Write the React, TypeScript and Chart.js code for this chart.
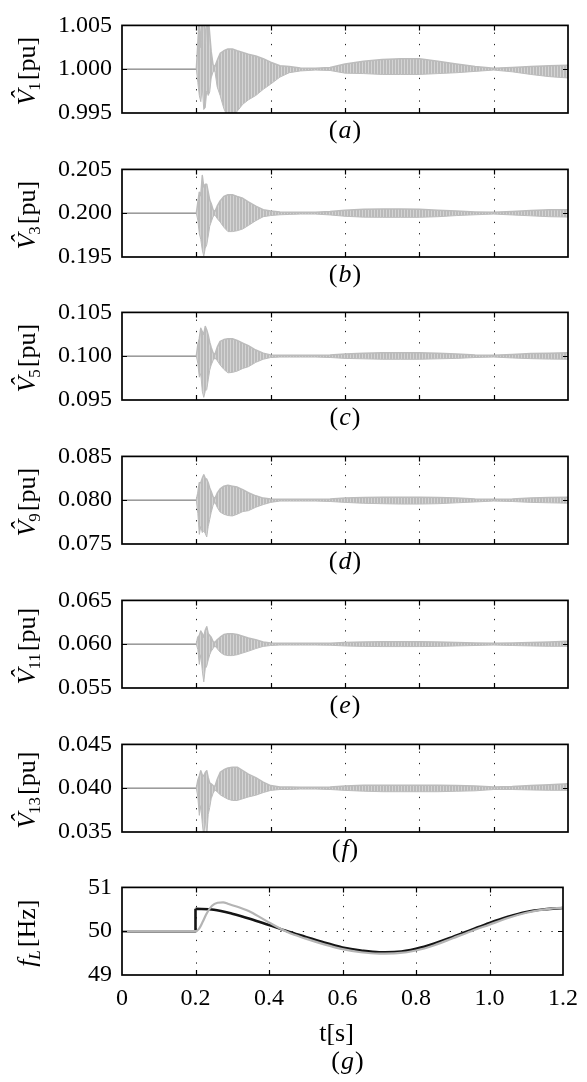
import React, { useEffect, useRef } from 'react';
import { Chart, registerables } from 'chart.js';

Chart.register(...registerables);

// ---------- data ----------
// shared sample times (s) for the envelopes of the harmonic voltages
const tV = [0, 0.2, 0.204, 0.208, 0.212, 0.216, 0.22, 0.224, 0.228, 0.232, 0.236, 0.24, 0.245, 0.25, 0.256, 0.264, 0.274, 0.285, 0.297, 0.31, 0.325, 0.34, 0.36, 0.38, 0.4, 0.425, 0.45, 0.48, 0.52, 0.56, 0.6, 0.65, 0.7, 0.75, 0.8, 0.85, 0.9, 0.95, 1.0, 1.05, 1.1, 1.15, 1.2];

// V1 envelope (upper / lower) [pu]
const v1Hi = [1.0, 1.0, 1.003, 1.006, 1.0025, 1.006, 1.006, 1.003, 1.006, 1.006, 1.004, 1.002, 1.0005, 1.0003, 1.001, 1.0018, 1.0021, 1.0023, 1.0023, 1.0021, 1.0019, 1.0017, 1.0015, 1.0012, 1.0008, 1.0004, 1.0003, 1.00015, 1.0001, 1.0002, 1.0006, 1.0009, 1.0011, 1.0012, 1.0012, 1.0009, 1.0006, 1.0003, 1.0001, 1.0002, 1.0003, 1.0004, 1.00045];
const v1Lo = [1.0, 1.0, 0.9985, 0.997, 0.9963, 0.998, 0.9954, 0.9956, 0.9975, 0.997, 0.9974, 0.999, 0.9997, 0.9998, 0.998, 0.997, 0.9955, 0.9945, 0.9945, 0.9952, 0.996, 0.9965, 0.997, 0.9977, 0.9983, 0.9991, 0.9996, 0.9998, 0.9999, 0.99985, 0.99955, 0.9995, 0.9994, 0.9994, 0.9994, 0.9995, 0.9996, 0.99975, 0.9999, 0.9997, 0.9994, 0.99915, 0.999];

// V3 envelope
const v3Hi = [0.2, 0.2, 0.2012, 0.2024, 0.202, 0.2043, 0.203, 0.2033, 0.2033, 0.2024, 0.2015, 0.2011, 0.2004, 0.2002, 0.2008, 0.2014, 0.2019, 0.2021, 0.2021, 0.2019, 0.2017, 0.2013, 0.2008, 0.2004, 0.20024, 0.20015, 0.20012, 0.2001, 0.2001, 0.2002, 0.20035, 0.20045, 0.20047, 0.20047, 0.20045, 0.20035, 0.20024, 0.20015, 0.2001, 0.2002, 0.2003, 0.20038, 0.2004];
const v3Lo = [0.2, 0.2, 0.1992, 0.1977, 0.197, 0.1958, 0.1951, 0.196, 0.1964, 0.1974, 0.1985, 0.199, 0.1996, 0.1998, 0.1994, 0.199, 0.1984, 0.1979, 0.1979, 0.198, 0.1982, 0.1986, 0.19915, 0.1996, 0.19973, 0.19982, 0.19986, 0.1999, 0.1999, 0.1998, 0.19965, 0.19955, 0.19953, 0.19953, 0.19953, 0.1996, 0.19973, 0.19982, 0.1999, 0.1998, 0.1997, 0.1996, 0.19956];

// V5 envelope
const v5Hi = [0.1, 0.1, 0.1013, 0.102, 0.1032, 0.1028, 0.1025, 0.1034, 0.103, 0.1024, 0.1016, 0.101, 0.1004, 0.1002, 0.101, 0.1017, 0.1019, 0.102, 0.102, 0.1018, 0.1015, 0.1012, 0.1007, 0.10035, 0.10015, 0.1001, 0.1001, 0.1001, 0.1001, 0.10015, 0.10025, 0.10035, 0.1004, 0.1004, 0.1004, 0.10035, 0.10025, 0.10015, 0.1001, 0.1002, 0.1003, 0.10035, 0.1004];
const v5Lo = [0.1, 0.1, 0.0992, 0.0976, 0.098, 0.096, 0.0953, 0.096, 0.0962, 0.0973, 0.0984, 0.099, 0.0995, 0.0998, 0.0995, 0.099, 0.0985, 0.0981, 0.09815, 0.0983, 0.0986, 0.0988, 0.0993, 0.09965, 0.09985, 0.0999, 0.0999, 0.0999, 0.0999, 0.09985, 0.09975, 0.0997, 0.09965, 0.09965, 0.09965, 0.0997, 0.09975, 0.09985, 0.0999, 0.0998, 0.09972, 0.09967, 0.09965];

// V9 envelope
const v9Hi = [0.08, 0.08, 0.0808, 0.082, 0.082, 0.0825, 0.0829, 0.0825, 0.0824, 0.082, 0.0814, 0.081, 0.0804, 0.0802, 0.0808, 0.0813, 0.0816, 0.0817, 0.0816, 0.0815, 0.0812, 0.08085, 0.0805, 0.08024, 0.08015, 0.0801, 0.0801, 0.0801, 0.0801, 0.08015, 0.08025, 0.0803, 0.08034, 0.08034, 0.08034, 0.0803, 0.08025, 0.08015, 0.0801, 0.08015, 0.08025, 0.0803, 0.08034];
const v9Lo = [0.08, 0.08, 0.0785, 0.0761, 0.077, 0.0763, 0.0765, 0.0762, 0.0758, 0.077, 0.0778, 0.0786, 0.0794, 0.0798, 0.0792, 0.07865, 0.0784, 0.07825, 0.0782, 0.0784, 0.0787, 0.0788, 0.0792, 0.0795, 0.07975, 0.0799, 0.0799, 0.0799, 0.0799, 0.07985, 0.07975, 0.07965, 0.0796, 0.07956, 0.07956, 0.0796, 0.0797, 0.0798, 0.0799, 0.07985, 0.07975, 0.0797, 0.07966];

// V11 envelope
const v11Hi = [0.06, 0.06, 0.0608, 0.061, 0.0615, 0.0612, 0.0608, 0.0616, 0.062, 0.0612, 0.061, 0.0608, 0.0603, 0.0602, 0.0605, 0.0608, 0.0611, 0.0612, 0.0612, 0.0611, 0.0609, 0.0607, 0.0605, 0.06025, 0.06015, 0.0601, 0.0601, 0.0601, 0.0601, 0.06012, 0.0602, 0.06025, 0.06027, 0.06027, 0.06027, 0.06025, 0.0602, 0.06015, 0.0601, 0.06015, 0.0602, 0.06025, 0.06034];
const v11Lo = [0.06, 0.06, 0.0594, 0.0577, 0.0588, 0.057, 0.0557, 0.0572, 0.0575, 0.0582, 0.0588, 0.0592, 0.0595, 0.0598, 0.0595, 0.0591, 0.0588, 0.0587, 0.0587, 0.0588, 0.059, 0.0592, 0.0595, 0.05975, 0.05985, 0.0599, 0.0599, 0.0599, 0.0599, 0.05988, 0.0598, 0.05975, 0.05973, 0.05973, 0.05973, 0.05975, 0.0598, 0.05985, 0.0599, 0.05985, 0.0598, 0.05976, 0.05976];

// V13 envelope
const v13Hi = [0.04, 0.04, 0.0409, 0.0414, 0.042, 0.0415, 0.0414, 0.0418, 0.042, 0.0412, 0.0406, 0.0405, 0.0403, 0.0402, 0.041, 0.0418, 0.0421, 0.0423, 0.0424, 0.0424, 0.042, 0.0416, 0.0412, 0.0407, 0.0403, 0.04015, 0.04015, 0.0401, 0.0401, 0.04015, 0.04025, 0.04034, 0.04034, 0.04034, 0.04034, 0.04034, 0.0403, 0.04025, 0.04015, 0.0402, 0.0403, 0.0404, 0.0405];
const v13Lo = [0.04, 0.04, 0.039, 0.0369, 0.038, 0.036, 0.0345, 0.0365, 0.0345, 0.037, 0.0378, 0.0388, 0.0394, 0.0398, 0.0396, 0.03925, 0.039, 0.03875, 0.0386, 0.0386, 0.0388, 0.039, 0.0392, 0.0395, 0.03975, 0.03985, 0.03985, 0.0399, 0.0399, 0.03985, 0.03975, 0.03966, 0.0396, 0.0396, 0.0396, 0.0396, 0.03965, 0.0397, 0.03985, 0.03985, 0.0398, 0.03976, 0.03976];

// frequency f_L [Hz]: black (reference) and gray (measured)
const tBlack = [0, 0.2, 0.2, 0.25, 0.3, 0.35, 0.4, 0.45, 0.5, 0.55, 0.6, 0.65, 0.7, 0.75, 0.8, 0.85, 0.9, 0.95, 1.0, 1.05, 1.1, 1.15, 1.2];
const fBlack = [50, 50, 50.51, 50.49, 50.4, 50.28, 50.14, 50.0, 49.87, 49.74, 49.63, 49.56, 49.52, 49.53, 49.6, 49.72, 49.87, 50.03, 50.19, 50.33, 50.44, 50.5, 50.53];
const tGray = [0, 0.2, 0.21, 0.22, 0.23, 0.245, 0.26, 0.275, 0.29, 0.32, 0.35, 0.4, 0.45, 0.5, 0.55, 0.6, 0.65, 0.7, 0.75, 0.8, 0.85, 0.9, 0.95, 1.0, 1.05, 1.1, 1.15, 1.2];
const fGray = [50, 50, 50.06, 50.22, 50.4, 50.58, 50.65, 50.66, 50.62, 50.54, 50.44, 50.2, 49.98, 49.83, 49.7, 49.59, 49.52, 49.49, 49.5, 49.56, 49.68, 49.84, 50.0, 50.15, 50.3, 50.42, 50.5, 50.54];

// axes
const xTicks = [0, 0.2, 0.4, 0.6, 0.8, 1.0, 1.2];
const xTickLabels = ['0', '0.2', '0.4', '0.6', '0.8', '1.0', '1.2'];
const yTicksV1 = [0.995, 1.0, 1.005];
const yTicksV3 = [0.195, 0.2, 0.205];
const yTicksV5 = [0.095, 0.1, 0.105];
const yTicksV9 = [0.075, 0.08, 0.085];
const yTicksV11 = [0.055, 0.06, 0.065];
const yTicksV13 = [0.035, 0.04, 0.045];
const yTicksF = [49, 50, 51];
const yTickLabelsF = ['49', '50', '51'];
const harmonicOrders = ['1', '3', '5', '9', '11', '13'];
const panelLetters = ['a', 'b', 'c', 'd', 'e', 'f', 'g'];
const xTitle = 't[s]';

// ---------- styling ----------
const SERIF = '"Liberation Serif", "Times New Roman", serif';
const BAND = '#bcbcbc';
const PRE = '#9c9c9c';
const TICK_FONT = { family: SERIF, size: 24 };

function stripePattern(): any {
  const c = document.createElement('canvas');
  c.width = 3;
  c.height = 1;
  const g = c.getContext('2d');
  if (!g) return BAND;
  g.fillStyle = '#bababa';
  g.fillRect(0, 0, 3, 1);
  g.fillStyle = '#d4d4d4';
  g.fillRect(2, 0, 1, 1);
  return g.createPattern(c, 'repeat') || BAND;
}

type Part = { t: string; font: string; dx?: number; dy?: number; hat?: boolean };

function drawRich(ctx: CanvasRenderingContext2D, parts: Part[], cx: number, cy: number, rotate: boolean) {
  ctx.save();
  ctx.translate(cx, cy);
  if (rotate) ctx.rotate(-Math.PI / 2);
  ctx.fillStyle = '#000';
  ctx.textBaseline = 'alphabetic';
  ctx.textAlign = 'left';
  const widths = parts.map((p) => {
    ctx.font = p.font;
    return ctx.measureText(p.t).width;
  });
  const total = parts.reduce((s, p, i) => s + widths[i] + (p.dx || 0), 0);
  let x = -total / 2;
  parts.forEach((p, i) => {
    x += p.dx || 0;
    ctx.font = p.font;
    ctx.textAlign = 'left';
    ctx.fillText(p.t, x, p.dy || 0);
    if (p.hat) {
      ctx.textAlign = 'center';
      ctx.fillText('\u02C6', x + widths[i] * 0.62, -6);
    }
    x += widths[i];
  });
  ctx.restore();
}

const IT = (s: number) => `italic ${s}px ${SERIF}`;
const RM = (s: number) => `${s}px ${SERIF}`;

function captionParts(letter: string): Part[] {
  return [
    { t: '(', font: RM(26) },
    { t: letter, font: IT(26), dx: 1 },
    { t: ')', font: RM(26), dx: 1 },
  ];
}

function makeDecor(titleParts: Part[], letter: string, isLast: boolean) {
  return {
    id: 'decor',
    beforeDatasetsDraw(chart: any) {
      const { ctx, chartArea: a } = chart;
      const xs = chart.scales.x;
      const ys = chart.scales.y;
      ctx.save();
      ctx.strokeStyle = '#222';
      ctx.lineWidth = 1;
      ctx.setLineDash([1.3, 10]);
      for (const t of xs.ticks) {
        if (t.value <= xs.min + 1e-9 || t.value >= xs.max - 1e-9) continue;
        const px = Math.round(xs.getPixelForValue(t.value)) + 0.5;
        ctx.beginPath();
        ctx.moveTo(px, a.bottom);
        ctx.lineTo(px, a.top);
        ctx.stroke();
      }
      for (const t of ys.ticks) {
        if (t.value <= ys.min + 1e-9 || t.value >= ys.max - 1e-9) continue;
        const py = Math.round(ys.getPixelForValue(t.value)) + 0.5;
        ctx.beginPath();
        ctx.moveTo(a.left, py);
        ctx.lineTo(a.right, py);
        ctx.stroke();
      }
      ctx.restore();
    },
    afterDatasetsDraw(chart: any) {
      const { ctx, chartArea: a } = chart;
      const xs = chart.scales.x;
      const ys = chart.scales.y;
      ctx.save();
      ctx.setLineDash([]);
      ctx.strokeStyle = '#000';
      ctx.lineWidth = 1.2;
      const L = 5;
      for (const t of xs.ticks) {
        if (t.value <= xs.min + 1e-9 || t.value >= xs.max - 1e-9) continue;
        const px = Math.round(xs.getPixelForValue(t.value)) + 0.5;
        ctx.beginPath();
        ctx.moveTo(px, a.bottom);
        ctx.lineTo(px, a.bottom - L);
        ctx.moveTo(px, a.top);
        ctx.lineTo(px, a.top + L);
        ctx.stroke();
      }
      for (const t of ys.ticks) {
        if (t.value <= ys.min + 1e-9 || t.value >= ys.max - 1e-9) continue;
        const py = Math.round(ys.getPixelForValue(t.value)) + 0.5;
        ctx.beginPath();
        ctx.moveTo(a.left, py);
        ctx.lineTo(a.left + L, py);
        ctx.moveTo(a.right, py);
        ctx.lineTo(a.right - L, py);
        ctx.stroke();
      }
      ctx.lineWidth = 1.7;
      ctx.strokeRect(a.left, a.top, a.right - a.left, a.bottom - a.top);
      ctx.restore();
    },
    afterDraw(chart: any) {
      const { ctx, chartArea: a } = chart;
      const midY = (a.top + a.bottom) / 2;
      const midX = (a.left + a.right) / 2;
      drawRich(ctx, titleParts, 35, midY + 2, true);
      if (isLast) {
        drawRich(ctx, [{ t: xTitle, font: RM(26) }], midX - 6, a.bottom + 66, false);
        drawRich(ctx, captionParts(letter), midX + 5, a.bottom + 94, false);
      } else {
        drawRich(ctx, captionParts(letter), midX, a.bottom + 25, false);
      }
    },
  };
}

function baseOptions(yTicks: number[], yLabel: (v: number, i: number) => string, isLast: boolean) {
  return {
    responsive: false,
    animation: false as const,
    devicePixelRatio: 1,
    events: [],
    layout: { padding: { left: 0, right: 19, top: 14, bottom: isLast ? 0 : 31 } },
    plugins: {
      legend: { display: false },
      tooltip: { enabled: false },
      title: { display: false },
    },
    elements: { point: { radius: 0 }, line: { borderJoinStyle: 'round' as const } },
    scales: {
      x: {
        type: 'linear' as const,
        min: xTicks[0],
        max: xTicks[xTicks.length - 1],
        afterBuildTicks: (s: any) => {
          s.ticks = xTicks.map((v) => ({ value: v }));
        },
        afterFit: (s: any) => {
          s.height = isLast ? 107 : 0;
        },
        grid: { display: false, drawTicks: false },
        border: { display: false },
        ticks: {
          display: isLast,
          padding: 9,
          color: '#000',
          font: TICK_FONT,
          maxRotation: 0,
          autoSkip: false,
          callback: (_v: any, i: number) => xTickLabels[i],
        },
      },
      y: {
        type: 'linear' as const,
        min: yTicks[0],
        max: yTicks[yTicks.length - 1],
        afterBuildTicks: (s: any) => {
          s.ticks = yTicks.map((v) => ({ value: v }));
        },
        afterFit: (s: any) => {
          s.width = 122;
        },
        grid: { display: false, drawTicks: false },
        border: { display: false },
        ticks: {
          padding: 10,
          color: '#000',
          font: TICK_FONT,
          autoSkip: false,
          callback: (v: any, i: number) => yLabel(v, i),
        },
      },
    },
  };
}

const vPanels = [
  { order: harmonicOrders[0], hi: v1Hi, lo: v1Lo, ticks: yTicksV1 },
  { order: harmonicOrders[1], hi: v3Hi, lo: v3Lo, ticks: yTicksV3 },
  { order: harmonicOrders[2], hi: v5Hi, lo: v5Lo, ticks: yTicksV5 },
  { order: harmonicOrders[3], hi: v9Hi, lo: v9Lo, ticks: yTicksV9 },
  { order: harmonicOrders[4], hi: v11Hi, lo: v11Lo, ticks: yTicksV11 },
  { order: harmonicOrders[5], hi: v13Hi, lo: v13Lo, ticks: yTicksV13 },
];

function vConfig(idx: number): any {
  const p = vPanels[idx];
  const title: Part[] = [
    { t: 'V', font: IT(26), hat: true },
    { t: p.order, font: RM(17), dy: 5, dx: -1 },
    { t: '[pu]', font: RM(26), dx: 2 },
  ];
  return {
    type: 'line',
    data: {
      datasets: [
        {
          data: tV.map((t, i) => ({ x: t, y: p.hi[i] })),
          borderColor: BAND,
          borderWidth: 1.5,
          fill: false,
          tension: 0,
          segment: { borderColor: (c: any) => (c.p1.parsed.x <= 0.2 ? PRE : undefined) },
        },
        {
          data: tV.map((t, i) => ({ x: t, y: p.lo[i] })),
          borderColor: BAND,
          borderWidth: 1,
          backgroundColor: stripePattern(),
          fill: '-1',
          tension: 0,
        },
      ],
    },
    options: baseOptions(p.ticks, (v) => Number(v).toFixed(3), false),
    plugins: [makeDecor(title, panelLetters[idx], false)],
  };
}

function fConfig(): any {
  const title: Part[] = [
    { t: 'f', font: IT(26) },
    { t: 'L', font: IT(17), dy: 5, dx: 0 },
    { t: '[Hz]', font: RM(26), dx: 3 },
  ];
  const blackPts = tBlack.map((t, i) => ({ x: t, y: fBlack[i] }));
  return {
    type: 'line',
    data: {
      datasets: [
        {
          data: tGray.map((t, i) => ({ x: t, y: fGray[i] })),
          borderColor: '#b4b4b4',
          borderWidth: 2.2,
          fill: false,
          cubicInterpolationMode: 'monotone',
        },
        {
          data: blackPts.slice(2),
          borderColor: '#141414',
          borderWidth: 2.6,
          fill: false,
          cubicInterpolationMode: 'monotone',
        },
        {
          data: blackPts.slice(0, 3),
          borderColor: '#141414',
          borderWidth: 2.6,
          fill: false,
          tension: 0,
        },
      ],
    },
    options: baseOptions(yTicksF, (_v, i) => yTickLabelsF[i], true),
    plugins: [makeDecor(title, panelLetters[6], true)],
  };
}

function Panel({ make, top, height }: { make: () => any; top: number; height: number }) {
  const ref = useRef<HTMLCanvasElement>(null);
  useEffect(() => {
    if (!ref.current) return;
    const chart = new Chart(ref.current, make());
    return () => chart.destroy();
  }, []);
  return (
    <canvas
      ref={ref}
      width={587}
      height={height}
      style={{ position: 'absolute', left: 0, top, width: 587, height, display: 'block' }}
    />
  );
}

export default function App() {
  const tops = [0, 1, 2, 3, 4, 5, 6].map((i) => Math.round(15 + i * 143.7) - 14);
  return (
    <div style={{ position: 'absolute', left: 0, top: 0, width: 587, height: 1082, background: '#fff', overflow: 'hidden' }}>
      {vPanels.map((_, i) => (
        <Panel key={i} make={() => vConfig(i)} top={tops[i]} height={143} />
      ))}
      <Panel make={fConfig} top={tops[6]} height={1082 - tops[6]} />
    </div>
  );
}
